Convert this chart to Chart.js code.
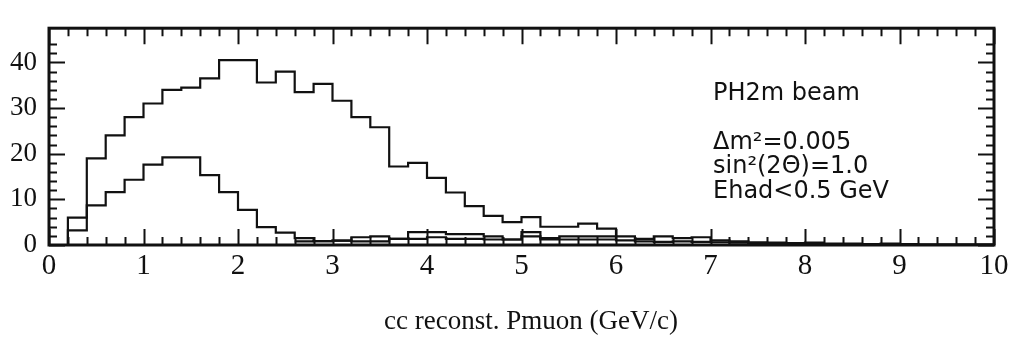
<!DOCTYPE html>
<html>
<head>
<meta charset="utf-8">
<script src="https://cdn.jsdelivr.net/npm/chart.js@4"></script>
<style>
  html, body { margin: 0; padding: 0; background: #fff; }
  #grafico { display: block; }
</style>
</head>
<body>
<canvas id="grafico" width="1015" height="341"></canvas>
<script>
// bordas dos bins (GeV/c), largura 0.2
const binEdges = [0, 0.2, 0.4, 0.6, 0.8, 1.0, 1.2, 1.4, 1.6, 1.8, 2.0, 2.2, 2.4, 2.6, 2.8, 3.0, 3.2, 3.4, 3.6, 3.8,
  4.0, 4.2, 4.4, 4.6, 4.8, 5.0, 5.2, 5.4, 5.6, 5.8, 6.0, 6.2, 6.4, 6.6, 6.8, 7.0, 7.2, 7.4, 7.6, 7.8,
  8.0, 8.2, 8.4, 8.6, 8.8, 9.0, 9.2, 9.4, 9.6, 9.8, 10.0];

// histograma de cima (sem oscilação)
const semOscilacao = [0, 6, 19, 24, 28, 31, 34, 34.5, 36.5, 40.5, 40.5, 35.6, 38, 33.5, 35.3, 31.6, 28, 25.8, 17.2, 18,
  14.7, 11.5, 8.5, 6.4, 5, 6.1, 4, 4, 4.7, 3.6, 1.9, 1.35, 1.9, 1.5, 1.7, 1.0, 0.8, 0.6, 0.5, 0.4,
  0.5, 0.3, 0.3, 0.2, 0.3, 0.2, 0.1, 0.1, 0.1, 0.1, 0];

// histograma do meio (com oscilação)
const comOscilacao = [0, 3.2, 8.7, 11.6, 14.3, 17.6, 19.2, 19.2, 15.3, 11.6, 7.7, 3.9, 2.7, 1.5, 0.85, 0.95, 1.7, 1.9, 1.35, 2.8,
  2.8, 2.4, 2.4, 1.9, 1.2, 2.8, 1.5, 1.9, 1.9, 1.9, 1.0, 0.8, 0.7, 0.8, 0.7, 0.6, 0.5, 0.4, 0.3, 0.3,
  0.3, 0.2, 0.2, 0.2, 0.2, 0.1, 0.1, 0.1, 0.1, 0.1, 0];

// fundo baixo na cauda
const fundo = [null, null, null, null, null, null, null, null, null, null, null, null, null, 0.8, 0.85, 0.95, 0.8, 0.8, 1.35, 1.35,
  1.7, 1.35, 1.35, 1.2, 1.2, 1.9, 1.2, 1.2, 1.2, 1.2, 1.0, null, null, null, null, null, null, null, null, null,
  null, null, null, null, null, null, null, null, null, null, null];

const notas = ['PH2m beam', '', 'Δm²=0.005', 'sin²(2Θ)=1.0', 'Ehad<0.5 GeV'];
const tituloX = 'cc reconst. Pmuon (GeV/c)';

const corTinta = '#111';

function pontos(valores) {
  return binEdges.map((e, i) => ({ x: e, y: valores[i] }));
}

// moldura, tracinhos para dentro nos quatro lados e os textos
const molduraPlugin = {
  id: 'moldura',
  afterDatasetsDraw(chart) {
    const { ctx, chartArea: a, scales: { x, y } } = chart;
    ctx.save();
    ctx.strokeStyle = corTinta;
    ctx.lineWidth = 2;
    ctx.beginPath();
    x.ticks.forEach(t => {
      const px = Math.round(x.getPixelForValue(t.value)) + 0.5;
      const maior = Math.abs(t.value - Math.round(t.value)) < 1e-6;
      const len = maior ? 16 : 8;
      ctx.moveTo(px, a.bottom); ctx.lineTo(px, a.bottom - len);
      ctx.moveTo(px, a.top); ctx.lineTo(px, a.top + len);
    });
    y.ticks.forEach(t => {
      if (Math.abs(t.value / 2 - Math.round(t.value / 2)) > 1e-6) return;
      const py = Math.round(y.getPixelForValue(t.value)) + 0.5;
      const maior = Math.abs(t.value / 10 - Math.round(t.value / 10)) < 1e-6;
      const len = maior ? 16 : 8;
      ctx.moveTo(a.left, py); ctx.lineTo(a.left + len, py);
      ctx.moveTo(a.right, py); ctx.lineTo(a.right - len, py);
    });
    ctx.stroke();
    ctx.lineWidth = 3;
    ctx.strokeRect(a.left, a.top, a.right - a.left, a.bottom - a.top);

    ctx.fillStyle = corTinta;
    ctx.font = '24px "DejaVu Sans"';
    ctx.textAlign = 'left';
    ctx.textBaseline = 'alphabetic';
    const base = [100, 0, 149, 173, 198];
    notas.forEach((txt, i) => {
      if (txt) ctx.fillText(txt, 713, base[i]);
    });

    // titulo do eixo x (um pouco à direita do centro, como no original)
    ctx.font = '27px "Liberation Serif"';
    ctx.textAlign = 'center';
    ctx.textBaseline = 'middle';
    ctx.fillText(tituloX, 531, 322);
    ctx.restore();
  }
};

const estiloLinha = {
  borderColor: corTinta,
  borderWidth: 2.2,
  pointRadius: 0,
  fill: false,
  stepped: 'before',
  spanGaps: false
};

new Chart(document.getElementById('grafico'), {
  type: 'line',
  data: {
    datasets: [
      Object.assign({ label: 'sem oscilação', data: pontos(semOscilacao) }, estiloLinha),
      Object.assign({ label: 'com oscilação', data: pontos(comOscilacao) }, estiloLinha),
      Object.assign({ label: 'fundo', data: pontos(fundo) }, estiloLinha)
    ]
  },
  options: {
    responsive: false,
    devicePixelRatio: 1,
    animation: false,
    layout: { padding: { top: 10, right: 21, left: 0, bottom: 0 } },
    plugins: { legend: { display: false }, tooltip: { enabled: false } },
    scales: {
      x: {
        type: 'linear',
        min: 0,
        max: 10,
        afterFit: s => { s.height = 96; },
        grid: { display: false, drawTicks: false },
        border: { display: false },
        ticks: {
          stepSize: 0.2,
          autoSkip: false,
          maxRotation: 0,
          padding: 4,
          color: corTinta,
          font: { family: '"Liberation Serif"', size: 29 },
          callback: v => Math.abs(v - Math.round(v)) < 1e-6 ? String(Math.round(v)) : ''
        }
      },
      y: {
        min: 0,
        max: 47.5,
        afterFit: s => { s.width = 49; },
        grid: { display: false, drawTicks: false },
        border: { display: false },
        ticks: {
          stepSize: 2,
          autoSkip: false,
          padding: 12,
          color: corTinta,
          font: { family: '"Liberation Serif"', size: 27 },
          callback: v => (Math.abs(v / 10 - Math.round(v / 10)) < 1e-6 && v <= 40) ? String(v) : ''
        }
      }
    }
  },
  plugins: [molduraPlugin]
});
</script>
</body>
</html>
